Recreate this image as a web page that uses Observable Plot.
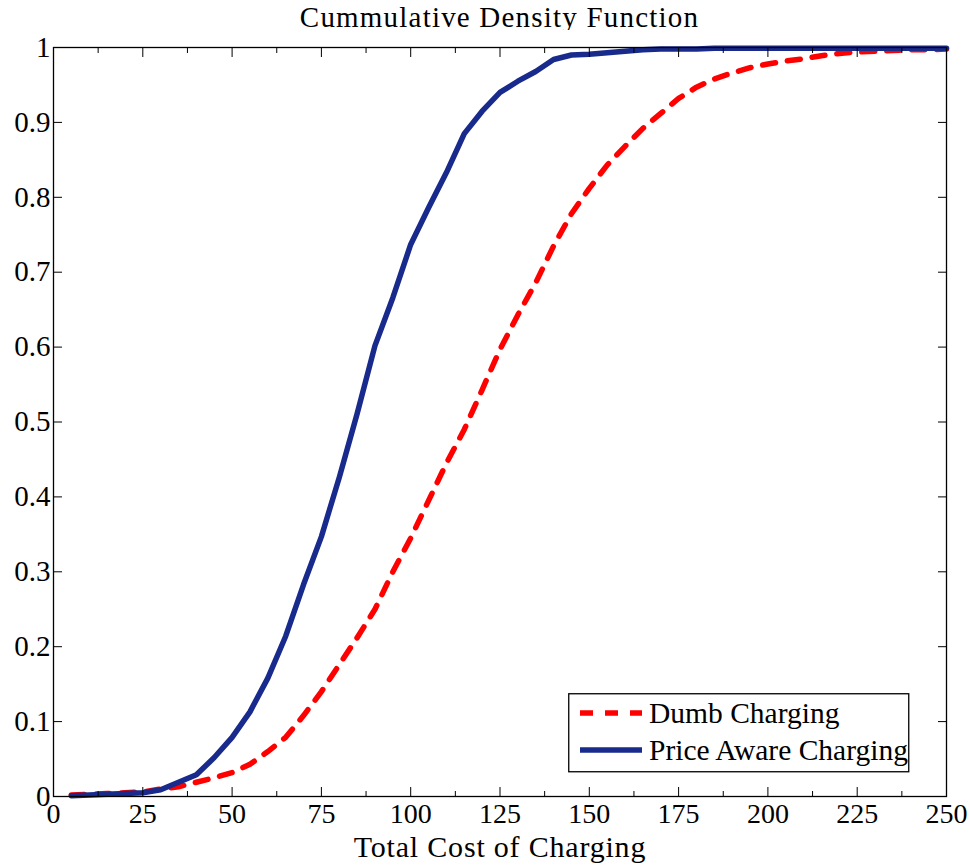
<!DOCTYPE html>
<html>
<head>
<meta charset="utf-8">
<script src="https://cdn.jsdelivr.net/npm/d3@7"></script>
<script src="https://cdn.jsdelivr.net/npm/@observablehq/plot@0.6"></script>
<style>
  body { margin: 0; background: #fff; }
  #wrap { position: relative; width: 970px; height: 865px; font-family: "Liberation Serif", "DejaVu Serif", serif; }
  #title { position: absolute; left: 53px; width: 893px; top: 2px; height: 30px; line-height: 30px; text-align: center; font-size: 29px; letter-spacing: 1.2px; color: #000; }
  #chart { position: absolute; left: 0; top: 30px; }
  #legend { position: absolute; left: 568px; top: 693px; }
</style>
</head>
<body>
<div id="wrap">
  <div id="title"></div>
  <div id="chart"></div>
  <div id="legend"></div>
</div>
<script>
const titleText = "Cummulative Density Function";
const xLabel = "Total Cost of Charging";
const seriesNames = ["Dumb Charging", "Price Aware Charging"];
const seriesColors = ["#ff0000", "#182a8c"];

const cost = [5,10,15,20,25,30,35,40,45,50,55,60,65,70,75,80,85,90,95,100,
  105,110,115,120,125,130,135,140,145,150,155,160,165,170,175,180,185,190,195,200,
  205,210,215,220,225,230,235,240,245,250];

const dumb = [0.002,0.003,0.004,0.005,0.006,0.010,0.013,0.019,0.025,0.032,
  0.043,0.060,0.079,0.108,0.140,0.176,0.212,0.250,0.300,0.345,
  0.395,0.445,0.490,0.543,0.597,0.643,0.686,0.735,0.778,0.812,
  0.843,0.868,0.892,0.912,0.932,0.947,0.958,0.966,0.973,0.978,
  0.982,0.985,0.989,0.992,0.994,0.995,0.996,0.997,0.997,0.998];

const aware = [0.001,0.002,0.003,0.004,0.005,0.009,0.019,0.029,0.052,0.079,
  0.113,0.158,0.214,0.283,0.347,0.426,0.511,0.602,0.666,0.737,
  0.786,0.833,0.885,0.915,0.940,0.955,0.968,0.984,0.990,0.991,
  0.993,0.995,0.997,0.998,0.998,0.998,0.999,0.999,0.999,0.999,
  0.999,0.999,0.999,0.999,0.999,0.999,0.999,0.999,0.999,0.999];

const xMajorTicks = [0,25,50,75,100,125,150,175,200,225,250];
const xMinorTicks = [12.5,37.5,62.5,87.5,112.5,137.5,162.5,187.5,212.5,237.5];
const yTicks = [0,0.1,0.2,0.3,0.4,0.5,0.6,0.7,0.8,0.9,1];

const rows = cost.map((c, i) => ({cost: c, dumb: dumb[i], aware: aware[i]}));

document.getElementById("title").textContent = titleText;

const font = "'Liberation Serif', 'DejaVu Serif', serif";
const noText = () => "";
const plot = Plot.plot({
  width: 970,
  height: 835,
  marginTop: 17,
  marginBottom: 69,
  marginLeft: 53,
  marginRight: 24,
  style: {fontFamily: font, fontSize: "28px", color: "#000", background: "#fff"},
  x: {domain: [0, 250]},
  y: {domain: [0, 1]},
  marks: [
    Plot.line(rows, {x: "cost", y: "dumb", stroke: seriesColors[0], strokeWidth: 5.5, strokeDasharray: "13,12"}),
    Plot.line(rows, {x: "cost", y: "aware", stroke: seriesColors[1], strokeWidth: 5.5}),
    Plot.frame({stroke: "#000", strokeWidth: 1.3}),
    Plot.axisX(xMajorTicks, {anchor: "bottom", tickSize: -9, tickPadding: 16, label: null, tickFormat: d => String(d), fontSize: 28}),
    Plot.axisX(xMinorTicks, {anchor: "bottom", tickSize: -5, tickFormat: noText, label: null}),
    Plot.axisX(xMajorTicks, {anchor: "top", tickSize: -9, tickFormat: noText, label: null}),
    Plot.axisX(xMinorTicks, {anchor: "top", tickSize: -5, tickFormat: noText, label: null}),
    Plot.axisY(yTicks, {anchor: "left", tickSize: -9, tickPadding: 12, label: null, tickFormat: d => String(d), fontSize: 29}),
    Plot.axisY(yTicks, {anchor: "right", tickSize: -9, tickFormat: noText, label: null}),
    Plot.text([xLabel], {text: d => d, frameAnchor: "bottom", dy: 51, lineAnchor: "middle", fontSize: 30, fill: "#000", style: "letter-spacing: 0.8px"})
  ]
});
document.getElementById("chart").appendChild(plot);
// letter spacing for the axis label text (style hook)
d3.select(plot).selectAll("text").filter(function() { return this.textContent === xLabel; })
  .style("letter-spacing", "0.8px");

// legend (boxed, inside plot area)
const lg = d3.select("#legend").append("svg").attr("width", 343).attr("height", 81)
  .style("font-family", font);
lg.append("rect").attr("x", 0.75).attr("y", 0.75).attr("width", 340).attr("height", 78)
  .attr("fill", "#fff").attr("stroke", "#000").attr("stroke-width", 1.3);
seriesNames.forEach((name, i) => {
  const cy = 20 + i * 37;
  lg.append("line").attr("x1", 12).attr("x2", 74).attr("y1", cy).attr("y2", cy)
    .attr("stroke", seriesColors[i]).attr("stroke-width", 5.5)
    .attr("stroke-dasharray", i === 0 ? "13,12" : null);
  lg.append("text").attr("x", 81).attr("y", cy).attr("dy", "0.34em")
    .attr("font-size", 29.5).attr("fill", "#000").text(name);
});
</script>
</body>
</html>
